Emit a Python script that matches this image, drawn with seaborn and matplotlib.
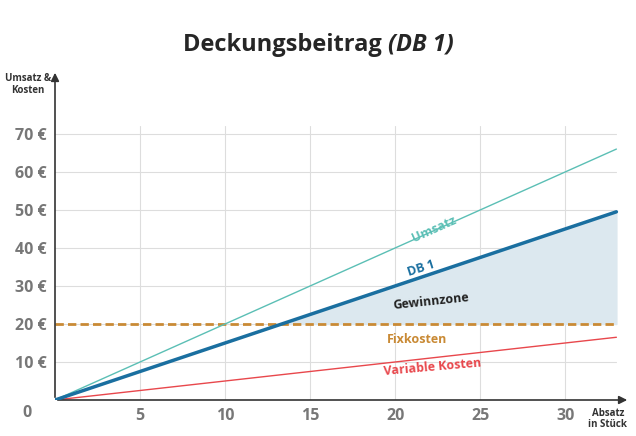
import numpy as np
import pandas as pd
import seaborn as sns
import matplotlib.pyplot as plt

# Werte aus dem Diagramm
absatz = [0, 33]
umsatz = [0, 66]
variable_kosten = [0, 16.5]
db1 = [0, 49.5]
fixkosten = 20
y_ticks = [10, 20, 30, 40, 50, 60, 70]
x_ticks = [5, 10, 15, 20, 25, 30]

df = pd.DataFrame({"absatz": absatz, "umsatz": umsatz,
                   "variabel": variable_kosten, "db1": db1})

sns.set_theme(style="white", font="Open Sans")
fig = plt.figure(figsize=(6.36, 4.36), dpi=100)
ax = fig.add_axes([55/636, 36/436, 575/636, 330/436])
ax.set_xlim(0, 33.8)
ax.set_ylim(0, 86.8)

grau = "#dddddd"
for x in x_ticks:
    ax.axvline(x, ymax=72/86.8, color=grau, lw=0.8, zorder=0)
for y in y_ticks:
    ax.axhline(y, xmax=33/33.8, color=grau, lw=0.8, zorder=0)

# Gewinnzone
x_be = fixkosten / (db1[1] / absatz[1])
xs = np.array([x_be, absatz[1]])
ax.fill_between(xs, fixkosten, np.interp(xs, absatz, db1), color="#dce8ef", zorder=1)

sns.lineplot(data=df, x="absatz", y="umsatz", ax=ax, color="#5bbfb5", lw=1, zorder=3)
sns.lineplot(data=df, x="absatz", y="variabel", ax=ax, color="#e8474c", lw=1, zorder=3)
sns.lineplot(data=df, x="absatz", y="db1", ax=ax, color="#1a6fa0", lw=2.5, zorder=4)
ax.plot([0, absatz[1]], [fixkosten, fixkosten], color="#c98a35", lw=2, ls=(0, (3, 1.5)), zorder=2)

# Achsen mit Pfeilen
for s in ax.spines.values():
    s.set_visible(False)
ax.annotate("", xy=(33.8, 0), xytext=(0, 0),
            arrowprops=dict(arrowstyle="-|>", color="#333333", lw=1.2), annotation_clip=False)
ax.annotate("", xy=(0, 86.8), xytext=(0, 0),
            arrowprops=dict(arrowstyle="-|>", color="#333333", lw=1.2), annotation_clip=False)

tick_col = "#777777"
ax.set_xticks(x_ticks)
ax.set_xticklabels([str(x) for x in x_ticks], color=tick_col, fontweight="bold", fontsize=11.5)
ax.set_yticks(y_ticks)
ax.set_yticklabels([f"{y} €" for y in y_ticks], color=tick_col, fontweight="bold", fontsize=11.5)
ax.tick_params(length=0, pad=6)
ax.set_xlabel("")
ax.set_ylabel("")
ax.text(-1.4, -3.5, "0", color=tick_col, fontweight="bold", fontsize=11.5, ha="right", va="center")

ax.text(-1.6, 80, "Umsatz &\nKosten", fontsize=7, fontweight="bold", ha="center", va="bottom",
        color="#333333", linespacing=1.1)
ax.text(32.5, -2, "Absatz\nin Stück", fontsize=7, fontweight="bold", ha="center", va="top",
        color="#333333", linespacing=1.1)

ax.text(22.3, 45, "Umsatz", color="#5bbfb5", fontsize=9, fontweight="bold",
        rotation=24, ha="center", va="center")
ax.text(21.5, 34.5, "DB 1", color="#1a6fa0", fontsize=9, fontweight="bold",
        rotation=18, ha="center", va="center")
ax.text(22.1, 26, "Gewinnzone", color="#222222", fontsize=9, fontweight="bold",
        rotation=6, ha="center", va="center")
ax.text(21.3, 16, "Fixkosten", color="#c98a35", fontsize=9, fontweight="bold",
        ha="center", va="center")
ax.text(22.2, 8.5, "Variable Kosten", color="#e8474c", fontsize=9, fontweight="bold",
        rotation=5, ha="center", va="center")

fig.text(0.61, 0.897, "Deckungsbeitrag ", fontsize=17, fontweight="bold", ha="right", va="center")
fig.text(0.61, 0.897, "(DB 1)", fontsize=17, fontweight="bold", style="italic", ha="left", va="center")

fig.savefig("out.png", dpi=100)
